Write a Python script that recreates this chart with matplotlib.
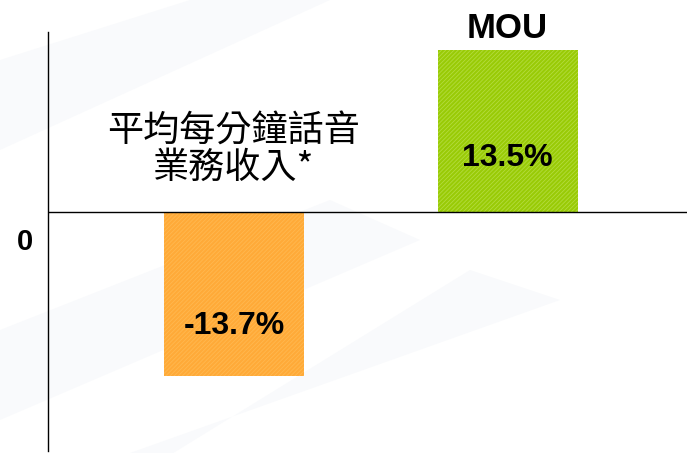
import matplotlib
matplotlib.use("Agg")
import matplotlib.pyplot as plt
from matplotlib.patches import Polygon

categories = ["平均每分鐘話音\n業務收入*", "MOU"]
values = [-13.7, 13.5]
value_labels = ["-13.7%", "13.5%"]
colors = ["#FFAA38", "#99CB06"]
hatch_colors = ["#FFB850", "#B4DC3E"]
label_frac = [0.695, 0.33]
zero_label = "0"

W, H = 687, 453
plt.rcParams["hatch.linewidth"] = 0.6
fig = plt.figure(figsize=(W / 100, H / 100), dpi=100)
fig.patch.set_facecolor("white")

# faint watermark bands
bg = fig.add_axes([0, 0, 1, 1])
bg.set_xlim(0, W)
bg.set_ylim(H, 0)
bg.axis("off")
for pts in [
    [(0, 60), (0, 150), (330, 0), (190, 0)],
    [(0, 330), (0, 420), (420, 240), (330, 200)],
    [(0, 560), (130, 453), (560, 300), (470, 270)],
]:
    bg.add_patch(Polygon(pts, closed=True, facecolor="#F9FAFC", edgecolor="none", zorder=0))

ax = fig.add_axes([48 / W, (H - 451) / H, (W - 48) / W, (451 - 32) / H])
ax.patch.set_alpha(0)
ax.set_xlim(-0.680, 1.656)
ax.set_ylim(-20, 15)

x = list(range(len(categories)))
bars = ax.bar(x, values, width=0.512, color=colors, edgecolor="none", zorder=2)
for b, hc in zip(bars, hatch_colors):
    b.set_hatch("////////")
    b._hatch_color = matplotlib.colors.to_rgba(hc)

ax.axhline(0, color="black", lw=1.0, zorder=3)
for s in ["top", "right", "bottom"]:
    ax.spines[s].set_visible(False)
ax.spines["left"].set_linewidth(1.0)
ax.set_xticks([])
ax.set_yticks([])

for xi, v, lab, fr in zip(x, values, value_labels, label_frac):
    ax.text(xi, v * fr, lab, ha="center", va="center",
            fontsize=23, fontweight="bold", family=["Liberation Sans", "DejaVu Sans"],
            color="black", zorder=4)

# category labels
ax.text(0, 5.15, categories[0], ha="center", va="center", fontsize=26,
        family=["Noto Sans CJK TC", "DejaVu Sans"], linespacing=1.0, zorder=4)
ax.text(1, 15.3, categories[1], ha="center", va="center", fontsize=25,
        fontweight="bold", family=["Liberation Sans", "DejaVu Sans"], zorder=4)

fig.text(25 / W, 1 - 242 / H, zero_label, ha="center", va="center", fontsize=21,
         fontweight="bold", family=["Liberation Sans", "DejaVu Sans"])

fig.savefig("out.png", dpi=100)
